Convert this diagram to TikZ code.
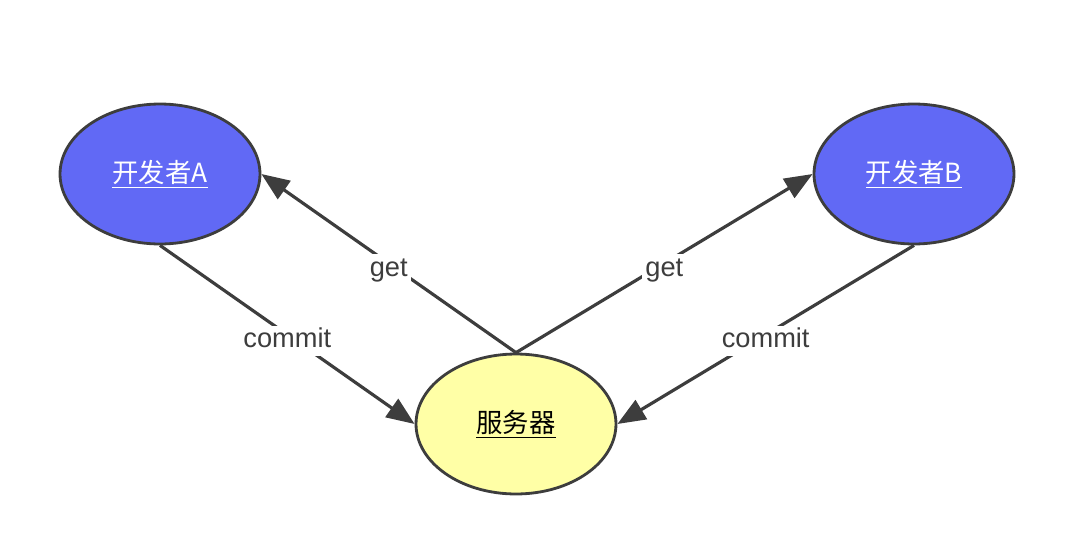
\documentclass[tikz,border=0pt]{standalone}
\usepackage{fontspec}
\setmainfont{Liberation Sans}
\newfontfamily\cjk{Noto Sans CJK SC}
\usetikzlibrary{arrows.meta,shapes.geometric}
\definecolor{devblue}{HTML}{6169F5}
\definecolor{srvyellow}{HTML}{FFFFA6}
\definecolor{edgegray}{HTML}{3D3D3D}
\begin{document}
\begin{tikzpicture}[x=0.02cm,y=-0.02cm,
    peer/.style={ellipse,draw=edgegray,line width=1.6pt,minimum width=4cm,minimum height=2.8cm,inner sep=0pt,font=\cjk\fontsize{15}{18}\selectfont},
    dev/.style={peer,fill=devblue,text=white},
    srv/.style={peer,fill=srvyellow,text=black},
    flow/.style={draw=edgegray,line width=1.8pt,-{Triangle[length=0.56cm,width=0.44cm]}},
    lbl/.style={fill=white,inner sep=2pt,yshift=-0.12cm,text height=2ex,text depth=0.5ex,text=edgegray,font=\fontsize{15.5}{18}\selectfont}]
      \useasboundingbox (0,0) rectangle (1080,538);
      \draw
        (160,174) node[dev] (devA){\underline{开发者A}}
        (914,174) node[dev] (devB){\underline{开发者B}}
        (516,424) node[srv] (server){\underline{服务器}};
      \begin{scope}[flow]
        \draw (devA.south) to node[lbl] {commit} (server.west);
        \draw (server.north) to node[lbl] {get} (devA.east);
        \draw (server.north) to node[lbl] {get} (devB.west);
        \draw (devB.south) to node[lbl] {commit} (server.east);
      \end{scope}
    \end{tikzpicture}
\end{document}
